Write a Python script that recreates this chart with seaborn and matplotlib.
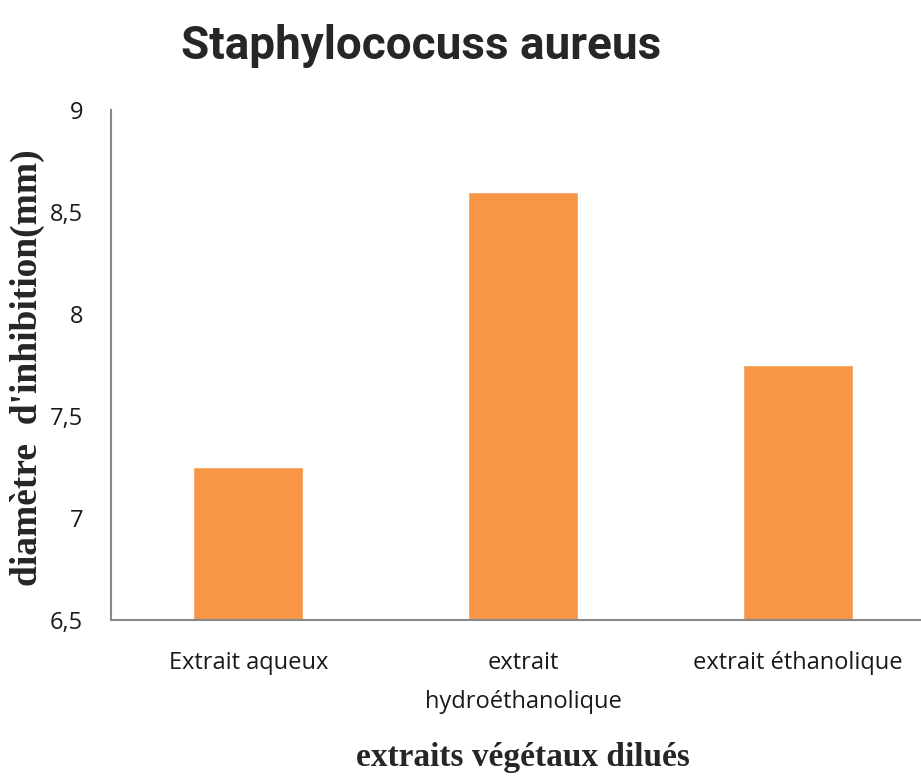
import matplotlib
matplotlib.use("Agg")
import matplotlib.pyplot as plt
import seaborn as sns
import pandas as pd

categories = ["Extrait aqueux", "extrait\nhydroéthanolique", "extrait éthanolique"]
values = [7.25, 8.6, 7.75]
yticks = [6.5, 7, 7.5, 8, 8.5, 9]
ytick_labels = ["6,5", "7", "7,5", "8", "8,5", "9"]

sns.set_style("white")

df = pd.DataFrame({"cat": categories, "val": values})

fig = plt.figure(figsize=(9.21, 7.8), dpi=100)
ax = fig.add_axes([111/921, 160/780, 824/921, 510/780])
sns.barplot(data=df, x="cat", y="val", color="#F79646", width=0.4,
            saturation=1, ax=ax)
ax.set_ylim(6.5, 9)
ax.set_yticks(yticks)
ax.set_yticklabels(ytick_labels, fontfamily="Open Sans", fontsize=17, color="#1a1a1a")
ax.set_xticks(range(len(categories)))
ax.set_xticklabels(categories, fontfamily="Open Sans", fontsize=17, color="#1a1a1a",
                   linespacing=1.85)
ax.tick_params(axis="y", length=6, width=1.2, color="#888888", direction="out", pad=14)
ax.tick_params(axis="x", length=0, pad=22)
for s in ["top", "right"]:
    ax.spines[s].set_visible(False)
for s in ["left", "bottom"]:
    ax.spines[s].set_color("#888888")
    ax.spines[s].set_linewidth(1.5)
ax.set_xlabel("extraits végétaux dilués", fontfamily="Liberation Serif",
              fontweight="bold", fontsize=24, labelpad=20)
ax.set_ylabel("diamètre  d'inhibition(mm)", fontfamily="Liberation Serif",
              fontweight="bold", fontsize=27)
ax.yaxis.set_label_coords(-66/824, 0.495)
fig.text(421/921, 1 - 46/780, "Staphylococuss aureus", fontfamily="Roboto",
         fontweight="bold", fontsize=33, ha="center", va="center")
fig.savefig("out.png", dpi=100)
